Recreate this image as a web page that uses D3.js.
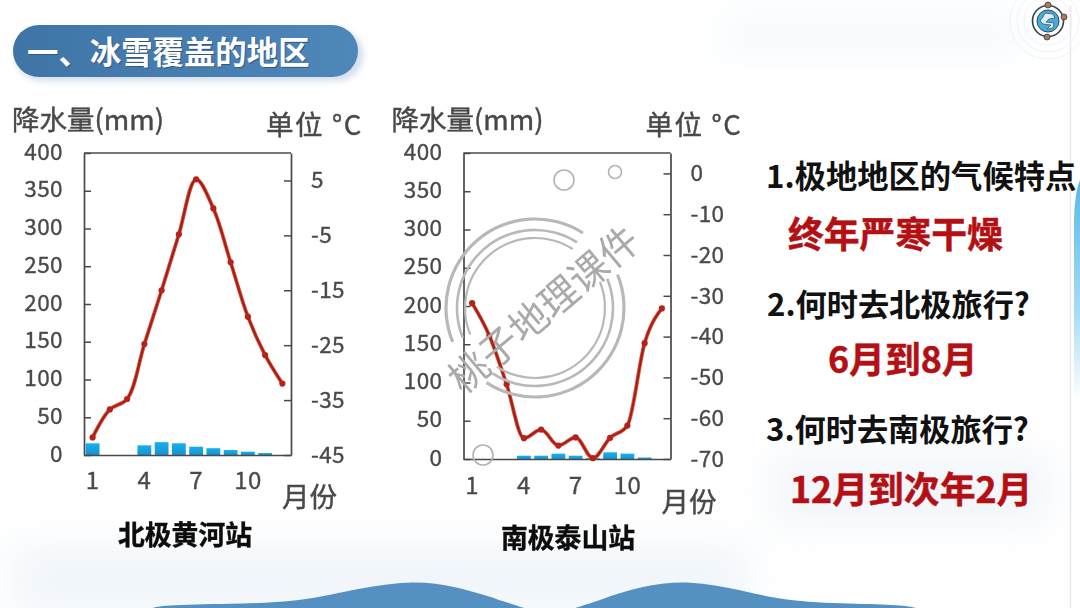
<!DOCTYPE html>
<html><head><meta charset="utf-8">
<script src="https://cdn.jsdelivr.net/npm/d3@7"></script>
<style>
html,body{margin:0;padding:0;background:#fff;overflow:hidden}
svg{display:block}
text{font-family:"Noto Sans CJK SC","Noto Sans",sans-serif}
</style></head><body>
<svg id="c" width="1080" height="608"></svg>
<script>
const months = [1,2,3,4,5,6,7,8,9,10,11,12];
const monthTicks = [1,4,7,10];
const precipTicks = [0,50,100,150,200,250,300,350,400];

const northTemp = [-41.8,-36.7,-34.8,-24.8,-15,-4.8,5.2,-0.1,-9.9,-19.8,-26.8,-32];
const northPrecip = [15.5,0,0,12.8,17,15.5,11,9,6.6,4.4,2.6,0];
const northTempTicks = [5,-5,-15,-25,-35,-45];

const southTemp = [-31.8,-39.8,-51.7,-64.9,-62.8,-66.7,-64.7,-69.8,-64.8,-61.8,-41.6,-33.1];
const southPrecip = [0,0,0,4.3,4.3,7,4.3,1,8.7,7,2,0];
const southTempTicks = [0,-10,-20,-30,-40,-50,-60,-70];

const titleText = "一、冰雪覆盖的地区";
const northName = "北极黄河站";
const southName = "南极泰山站";

const svg = d3.select("#c");
const defs = svg.append("defs");
function blur(id,s){defs.append("filter").attr("id",id).attr("x","-40%").attr("y","-40%").attr("width","180%").attr("height","180%")
  .append("feGaussianBlur").attr("stdDeviation",s);}
blur("b20",20);blur("b8",8);blur("soft",0.55);blur("b3",3);
const pg=defs.append("linearGradient").attr("id","pill");
pg.append("stop").attr("offset",0).attr("stop-color","#3f74a6");
pg.append("stop").attr("offset",1).attr("stop-color","#4e87ba");
const bg=defs.append("linearGradient").attr("id","bar").attr("x1",0).attr("x2",0).attr("y1",0).attr("y2",1);
bg.append("stop").attr("offset",0).attr("stop-color","#17b0ee");
bg.append("stop").attr("offset",1).attr("stop-color","#1492d0");
const eg=defs.append("linearGradient").attr("id","edge").attr("x1",0).attr("x2",0).attr("y1",0).attr("y2",1);
eg.append("stop").attr("offset",0).attr("stop-color","#58b8ea");
eg.append("stop").attr("offset",.6).attr("stop-color","#a8dcf4");
eg.append("stop").attr("offset",1).attr("stop-color","#ffffff");

// soft background
const back=svg.append("g");
back.append("rect").attr("x",10).attr("y",545).attr("width",740).attr("height",70).attr("fill","#f1f6fa").attr("filter","url(#b20)");
back.append("rect").attr("x",770).attr("y",455).attr("width",280).attr("height",70).attr("fill","#f2f5fa").attr("filter","url(#b20)");
back.append("rect").attr("x",720).attr("y",15).attr("width",300).attr("height",40).attr("fill","#f5f9fc").attr("filter","url(#b20)");
back.append("line").attr("x1",1070.5).attr("x2",1070.5).attr("y1",5).attr("y2",608).attr("stroke","#e6e9ee").attr("stroke-width",1.5);
back.append("path").attr("d","M1080,180 C1076,190 1074,205 1074,225 L1074,400 L1080,400 Z").attr("fill","url(#edge)");

// wave
const wavePts=[[150,609],[160,605],[230,604],[300,602],[350,590],[410,580],[455,586],[500,600],[527,609]];
const wavePts2=[[572,609],[600,600],[640,586],[690,580],[740,590],[790,602],[860,604],[905,605],[920,609]];
const wave=d3.line().curve(d3.curveBasis);
svg.append("path").attr("d",wave(wavePts)).attr("fill","#5590c3");
svg.append("path").attr("d",wave(wavePts2)).attr("fill","#5590c3");

// title pill
svg.append("rect").attr("x",15).attr("y",29).attr("width",348).attr("height",52).attr("rx",26).attr("fill","#a9bdd6").attr("opacity",.5).attr("filter","url(#b3)");
svg.append("rect").attr("x",13).attr("y",25).attr("width",345).attr("height",52).attr("rx",26).attr("fill","url(#pill)");
svg.append("text").attr("x",28).attr("y",51.5).attr("dominant-baseline","central").attr("fill","#33587c").attr("font-size",31.4).attr("font-weight",700).text(titleText);
svg.append("text").attr("x",27).attr("y",50.5).attr("dominant-baseline","central").attr("fill","#fff").attr("font-size",31.4).attr("font-weight",700).text(titleText);

// globe icon
const ic=svg.append("g").attr("transform","translate(1048,21)");
[24,31,38].forEach(r=>ic.append("circle").attr("r",r).attr("fill","none").attr("stroke","#f0f3f6").attr("stroke-width",1));
ic.append("circle").attr("r",15.5).attr("fill","#fff").attr("stroke","#2f3f52").attr("stroke-width",1.6);
ic.append("circle").attr("r",11).attr("fill","#45abdb").attr("stroke","#33485e").attr("stroke-width",1);
ic.append("path").attr("d","M-3,-8 L5,-7 L7,-3 L1,-2 L-2,1 L6,2 L5,7 L-1,8 L3,4 L-5,3 L-8,0 L-5,-4 Z").attr("fill","#dfeef5").attr("stroke","#33485e").attr("stroke-width",.7);
[[0,-16],[16,-4],[-1,16]].forEach(p=>ic.append("circle").attr("cx",p[0]).attr("cy",p[1]).attr("r",3).attr("fill","#a87b5b").attr("stroke","#3b3b3b").attr("stroke-width",.8));

function chart(o){
  const g=svg.append("g").attr("filter","url(#soft)");
  const x=d3.scaleBand().domain(months).range([o.left,o.right]).paddingInner(.2).paddingOuter(.1);
  const yP=d3.scaleLinear().domain([0,400]).range([o.bottom,o.top]);
  const yT=d3.scaleLinear().domain(o.tempDomain).range([o.bottom,o.top]);
  const mid=d=>x(d)+x.bandwidth()/2;
  const grey="#4a4a4a";
  g.selectAll(".bar").data(months).join("rect").attr("x",d=>x(d)).attr("width",x.bandwidth())
    .attr("y",(d,i)=>yP(o.precip[i])).attr("height",(d,i)=>o.bottom-yP(o.precip[i])).attr("fill","url(#bar)");
  const style=a=>{a.selectAll("path").attr("stroke",grey).attr("stroke-width",1.7);a.selectAll("line").attr("stroke",grey).attr("stroke-width",1.5);
    a.selectAll("text").attr("fill","#4a4a4a").attr("stroke","#4a4a4a").attr("stroke-width",.35).attr("font-family","'Liberation Sans',Arial,sans-serif").attr("font-size",22.5).attr("letter-spacing",.4);};
  const la=g.append("g").attr("transform",`translate(${o.left},0)`)
    .call(d3.axisLeft(yP).tickValues(precipTicks).tickSize(-7).tickSizeOuter(0).tickPadding(21)).call(style);
  la.selectAll("text").attr("y",-1);
  g.append("g").attr("transform",`translate(${o.right},0)`)
    .call(d3.axisRight(yT).tickValues(o.tempTicks).tickFormat(d=>String(d)).tickSize(-7).tickSizeOuter(0).tickPadding(o.tPad)).call(style);
  const ax=g.append("g").attr("transform",`translate(0,${o.bottom})`)
    .call(d3.axisBottom(x).tickValues(monthTicks).tickSize(0).tickPadding(o.xPad)).call(style);
  ax.selectAll("text").attr("font-family","'Liberation Serif',serif").attr("font-size",24);
  g.append("line").attr("x1",o.left).attr("x2",o.right).attr("y1",o.top).attr("y2",o.top).attr("stroke",grey).attr("stroke-width",1.7);
  const ln=d3.line().x((d,i)=>mid(months[i])).y(d=>yT(d)).curve(o.curve);
  g.append("path").attr("d",ln(o.temp)).attr("fill","none").attr("stroke","#d4533c").attr("stroke-width",3.8);
  g.append("path").attr("d",ln(o.temp)).attr("fill","none").attr("stroke","#a81f18").attr("stroke-width",2.1);
  g.selectAll(".pt").data(o.temp).join("circle").attr("cx",(d,i)=>mid(months[i])).attr("cy",d=>yT(d)).attr("r",3.1).attr("fill","#b5231c");
  const lab=(t,xx,yy)=>g.append("text").attr("x",xx).attr("y",yy).attr("dominant-baseline","central")
    .attr("font-family","'Liberation Sans','Noto Sans CJK SC',sans-serif")
    .attr("fill","#484848").attr("stroke","#484848").attr("stroke-width",.45).attr("font-size",27.5).text(t);
  lab("降水量(mm)",o.left-72,118);
  lab("单位 °C",o.left+182,123).attr("letter-spacing",1.6);
  lab("月份",o.left+198,o.monY);
}
chart({left:84,right:291,top:153,bottom:455,tempDomain:[-45,10],temp:northTemp,precip:northPrecip,tempTicks:northTempTicks,tPad:20,xPad:17,monY:495,curve:d3.curveCatmullRom.alpha(.5)});
chart({left:463.5,right:670.5,top:153,bottom:459,tempDomain:[-70,5],temp:southTemp,precip:southPrecip,tempTicks:southTempTicks,tPad:20,xPad:18,monY:500,curve:d3.curveMonotoneX});

// station names
const blk=(t,x,y,s,c)=>svg.append("text").attr("x",x).attr("y",y).attr("dominant-baseline","central").attr("fill",c).attr("font-size",s).attr("font-weight",700).text(t);
blk(northName,118,533,26.8,"#0c0c0c").attr("stroke","#0c0c0c").attr("stroke-width",.4);
blk(southName,501,536,26.8,"#0c0c0c").attr("stroke","#0c0c0c").attr("stroke-width",.4);

// bubbles and stamp
const st=svg.append("g").attr("fill","none").attr("stroke","#b3b3b3").attr("filter","url(#soft)");
[[564,180,10],[615,172,6.5],[483,455,10]].forEach(c=>st.append("circle").attr("cx",c[0]).attr("cy",c[1]).attr("r",c[2]).attr("stroke-width",1.6));
const stamp=svg.append("g").attr("transform","translate(535,308)").attr("filter","url(#soft)");
const rad=Math.PI/180;
[[89,3.2],[78,2.6],[70,2.2]].forEach(r=>{
  [[68,213],[247.6,392.6]].forEach(a=>stamp.append("path")
    .attr("d",d3.arc()({innerRadius:r[0]-r[1]/2,outerRadius:r[0]+r[1]/2,startAngle:a[0]*rad,endAngle:a[1]*rad})).attr("fill","#b8b8b8"));
});
stamp.append("text").attr("transform","translate(7,-1) rotate(-40)").attr("text-anchor","middle").attr("dominant-baseline","central")
  .attr("fill","#aaaaaa").attr("font-size",39).text("桃子地理课件");

// right column
blk("1.极地地区的气候特点",766,174,31.3,"#111");
blk("终年严寒干燥",788,232,35.8,"#b41014").attr("stroke","#b41014").attr("stroke-width",.5);
blk("2.何时去北极旅行?",767,302.5,31.2,"#111");
blk("6月到8月",828,357,35.8,"#b41014").attr("stroke","#b41014").attr("stroke-width",.5);
blk("3.何时去南极旅行?",766,427.5,31.2,"#111");
blk("12月到次年2月",790,487,35.8,"#b41014").attr("stroke","#b41014").attr("stroke-width",.5);
</script></body></html>
